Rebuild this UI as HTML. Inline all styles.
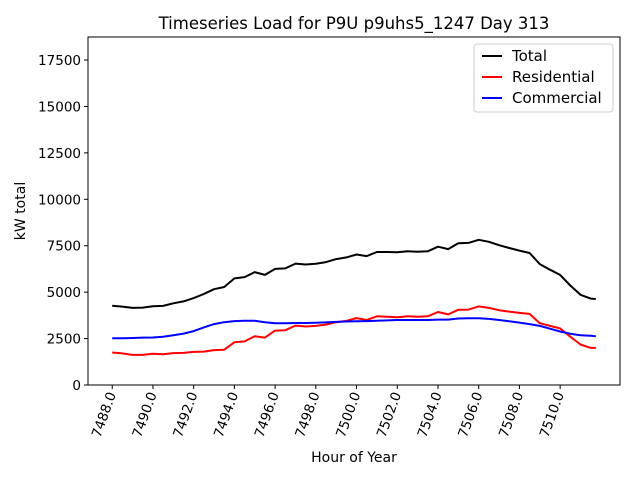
<!DOCTYPE html>
<html><head><meta charset="utf-8"><style>
body{margin:0;background:#fff}
svg{display:block;font-family:"DejaVu Sans","Liberation Sans",sans-serif}
</style></head><body>
<svg id="c" width="640" height="480">
<rect x="0" y="0" width="640" height="480" fill="#fff"/>
<text x="354" y="29" text-anchor="middle" font-size="16.5">Timeseries Load for P9U p9uhs5_1247  Day 313</text>
<g id="grid"></g>
<g id="lines"></g>
<rect x="88" y="37" width="532" height="348" fill="none" stroke="#000" stroke-width="1"/>
<text x="354" y="462" text-anchor="middle" font-size="14">Hour of Year</text>
<text transform="translate(25,211) rotate(-90)" text-anchor="middle" font-size="14">kW total</text>
<g>
<rect x="474" y="44" width="139" height="68" rx="3" fill="#fff" stroke="#ccc"/>
<line x1="482" y1="56" x2="502" y2="56" stroke="#000" stroke-width="2"/>
<text x="512" y="61" font-size="15">Total</text>
<line x1="482" y1="77" x2="502" y2="77" stroke="red" stroke-width="2"/>
<text x="512" y="82" font-size="15">Residential</text>
<line x1="482" y1="98" x2="502" y2="98" stroke="blue" stroke-width="2"/>
<text x="512" y="103" font-size="15">Commercial</text>
</g>
</svg>
<script>
const hours=[7488,7488.5,7489,7489.5,7490,7490.5,7491,7491.5,7492,7492.5,7493,7493.5,7494,7494.5,7495,7495.5,7496,7496.5,7497,7497.5,7498,7498.5,7499,7499.5,7500,7500.5,7501,7501.5,7502,7502.5,7503,7503.5,7504,7504.5,7505,7505.5,7506,7506.5,7507,7507.5,7508,7508.5,7509,7509.5,7510,7510.5,7511,7511.5,7511.75];
const residential=[1750,1700,1620,1620,1680,1660,1720,1730,1780,1800,1880,1900,2300,2350,2620,2550,2930,2950,3200,3150,3180,3250,3380,3450,3600,3500,3700,3680,3650,3700,3680,3700,3930,3800,4050,4060,4230,4150,4030,3950,3880,3830,3330,3180,3050,2600,2180,2000,2000];
const commercial=[2520,2520,2530,2550,2560,2600,2680,2770,2900,3100,3280,3380,3440,3460,3460,3380,3320,3330,3340,3340,3350,3370,3400,3420,3430,3440,3460,3480,3500,3500,3500,3500,3520,3520,3580,3590,3590,3560,3500,3430,3360,3280,3180,3030,2880,2760,2680,2650,2630];
const total=[4270,4220,4150,4170,4240,4260,4400,4500,4680,4900,5160,5280,5740,5810,6080,5930,6250,6280,6540,6490,6530,6620,6780,6870,7030,6940,7160,7160,7150,7200,7180,7200,7450,7320,7630,7650,7820,7710,7530,7380,7240,7110,6510,6210,5930,5360,4860,4650,4630];
const xTicks=[7488,7490,7492,7494,7496,7498,7500,7502,7504,7506,7508,7510];
const yTicks=[0,2500,5000,7500,10000,12500,15000,17500];
const X0=88,X1=620,Y0=385,Y1=37,xmin=7486.81,xmax=7512.94,ymin=0,ymax=18740;
const sx=v=>X0+(v-xmin)/(xmax-xmin)*(X1-X0);
const sy=v=>Y0-(v-ymin)/(ymax-ymin)*(Y0-Y1);
const NS="http://www.w3.org/2000/svg";
const g=document.getElementById('grid'),L=document.getElementById('lines');
function mk(t,a,p){const e=document.createElementNS(NS,t);for(const k in a)e.setAttribute(k,a[k]);p.appendChild(e);return e;}
xTicks.forEach(v=>{const x=sx(v);
 const t=mk('line',{x1:x,x2:x,y1:Y0,y2:Y0+4,stroke:'#000'},g);
 
 
 const l=mk('text',{transform:`translate(${x+4},${Y0+9}) rotate(-70)`,'text-anchor':'end','font-size':'13.5'},g);
 l.textContent=v.toFixed(1);
 
 
});
yTicks.forEach(v=>{const y=sy(v);
 const t=mk('line',{x1:X0-4,x2:X0,y1:y,y2:y,stroke:'#000'},g);
 
 
 const l=mk('text',{x:X0-7,y:y+5,'text-anchor':'end','font-size':'13.5'},g);
 l.textContent=v;
 
 
});
function series(vals,color,name){
 const d=vals.map((v,i)=>(i?'L':'M')+sx(hours[i]).toFixed(1)+','+sy(v).toFixed(1)).join('');
 const p=mk('path',{d:d,fill:'none',stroke:color,'stroke-width':2,'stroke-linejoin':'round'},L);
 
 
}
series(total,'#000','total-line');
series(residential,'red','residential-line');
series(commercial,'blue','commercial-line');
</script>
</body></html>
